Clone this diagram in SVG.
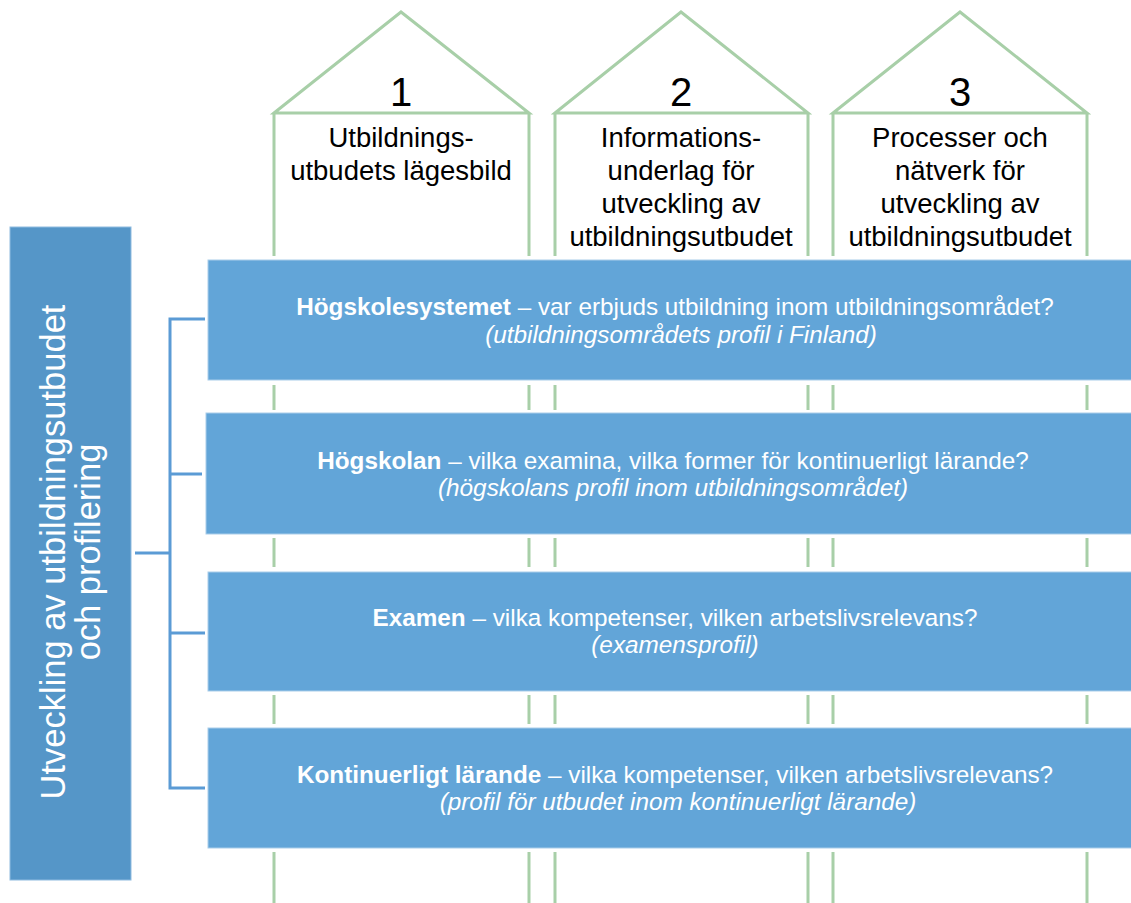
<svg xmlns="http://www.w3.org/2000/svg" width="1131" height="903" viewBox="0 0 1131 903">
<style>
.wall{stroke:#a8cfa8;stroke-width:3;fill:none;stroke-linecap:butt}
.roof{stroke:#a8cfa8;stroke-width:3;fill:#ffffff;stroke-linejoin:miter}
.num{font-family:"Liberation Sans",Arial,sans-serif;font-size:40px;fill:#000;text-anchor:middle}
.ht{font-family:"Liberation Sans",Arial,sans-serif;font-size:27.5px;fill:#000;text-anchor:middle}
.bar{fill:#62a5d8;stroke:#a9cdea;stroke-width:1}
.bt{font-family:"Liberation Sans",Arial,sans-serif;font-size:24.3px;fill:#ffffff;text-anchor:middle}
.it{font-style:italic}
.side{fill:#5596c8;stroke:#8fbbe0;stroke-width:1}
.st{font-family:"Liberation Sans",Arial,sans-serif;font-size:34.5px;fill:#ffffff;text-anchor:middle}
.br{stroke:#5b9bd5;stroke-width:3;fill:none}
</style>
<rect width="1131" height="903" fill="#ffffff"/>
<g id="house1">
<polygon class="roof" points="274,113 401,12 529,113"/>
<path class="wall" d="M274,113V256M529,113V256M274,385V410M529,385V410M274,538V567M529,538V567M274,695V724M529,695V724M274,852V903M529,852V903"/>
<text class="num" x="401" y="106">1</text>
<text class="ht" x="401" y="147">Utbildnings-</text>
<text class="ht" x="401" y="180">utbudets lägesbild</text>
</g>
<g id="house2">
<polygon class="roof" points="555,113 681,12 808,113"/>
<path class="wall" d="M555,113V256M808,113V256M555,385V410M808,385V410M555,538V567M808,538V567M555,695V724M808,695V724M555,852V903M808,852V903"/>
<text class="num" x="681" y="106">2</text>
<text class="ht" x="681" y="147">Informations-</text>
<text class="ht" x="681" y="180">underlag för</text>
<text class="ht" x="681" y="213">utveckling av</text>
<text class="ht" x="681" y="246">utbildningsutbudet</text>
</g>
<g id="house3">
<polygon class="roof" points="833,113 960,12 1087,113"/>
<path class="wall" d="M833,113V256M1087,113V256M833,385V410M1087,385V410M833,538V567M1087,538V567M833,695V724M1087,695V724M833,852V903M1087,852V903"/>
<text class="num" x="960" y="106">3</text>
<text class="ht" x="960" y="147">Processer och</text>
<text class="ht" x="960" y="180">nätverk för</text>
<text class="ht" x="960" y="213">utveckling av</text>
<text class="ht" x="960" y="246">utbildningsutbudet</text>
</g>
<g id="bar1">
<rect class="bar" x="208" y="260" width="930" height="120"/>
<text class="bt" x="675" y="315"><tspan font-weight="bold">Högskolesystemet</tspan> – var erbjuds utbildning inom utbildningsområdet?</text>
<text class="bt it" x="681" y="343">(utbildningsområdets profil i Finland)</text>
</g>
<g id="bar2">
<rect class="bar" x="206" y="413" width="932" height="121"/>
<text class="bt" x="673" y="469"><tspan font-weight="bold">Högskolan</tspan> – vilka examina, vilka former för kontinuerligt lärande?</text>
<text class="bt it" x="673" y="496">(högskolans profil inom utbildningsområdet)</text>
</g>
<g id="bar3">
<rect class="bar" x="208" y="572" width="930" height="119"/>
<text class="bt" x="675" y="626"><tspan font-weight="bold">Examen</tspan> – vilka kompetenser, vilken arbetslivsrelevans?</text>
<text class="bt it" x="675" y="653">(examensprofil)</text>
</g>
<g id="bar4">
<rect class="bar" x="208" y="728" width="930" height="120"/>
<text class="bt" x="675" y="783"><tspan font-weight="bold">Kontinuerligt lärande</tspan> – vilka kompetenser, vilken arbetslivsrelevans?</text>
<text class="bt it" x="678" y="810">(profil för utbudet inom kontinuerligt lärande)</text>
</g>
<g id="side">
<rect class="side" x="10" y="227" width="121" height="653"/>
<g transform="translate(70.5,552) rotate(-90)">
<text class="st" x="0" y="-6">Utveckling av utbildningsutbudet</text>
<text class="st" x="0" y="29">och profilering</text>
</g>
</g>
<g id="connectors">
<path class="br" d="M205,319H170V788H205M135,553H170M170,474H202M170,633H205"/>
</g>
</svg>
